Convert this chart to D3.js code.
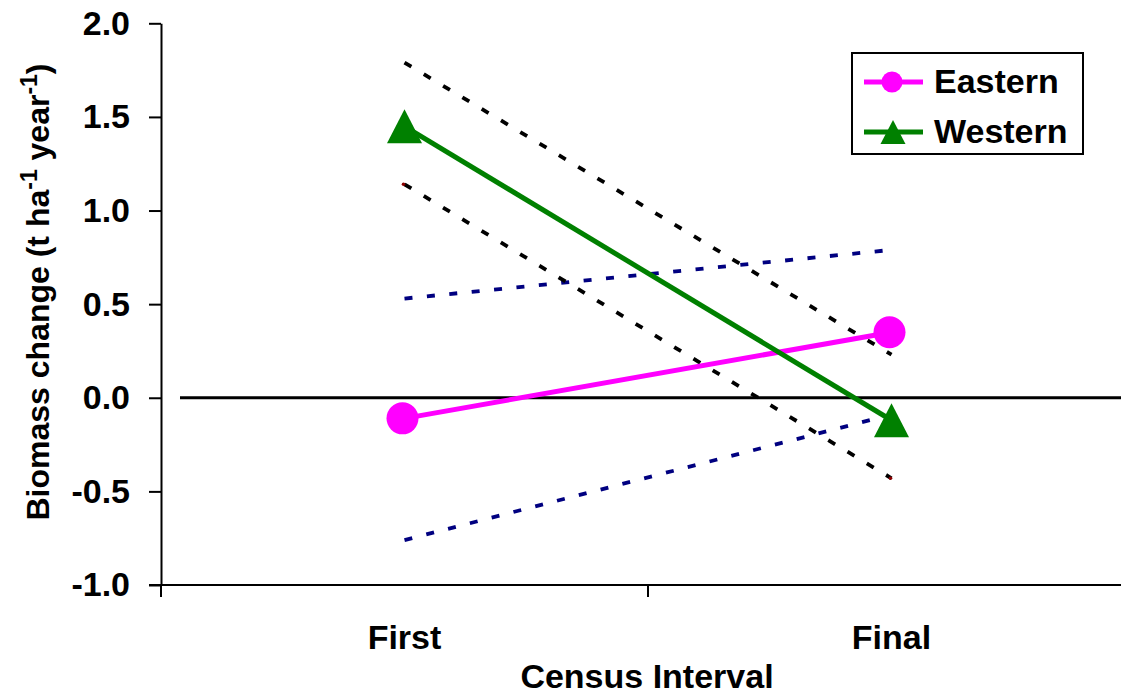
<!DOCTYPE html>
<html>
<head>
<meta charset="utf-8">
<script src="https://cdn.jsdelivr.net/npm/d3@7"></script>
<style>
  html, body { margin: 0; padding: 0; background: #fff; }
  svg { display: block; font-family: "Liberation Sans", Arial, Helvetica, sans-serif; font-weight: bold; }
</style>
</head>
<body>
<svg id="chart" width="1121" height="695"></svg>
<script>
// ---- data ----
const categories = ["First", "Final"];
const eastern = [-0.11, 0.35];
const western = [1.45, -0.12];
const easternUpper = [0.53, 0.79];
const easternLower = [-0.76, -0.09];
const westernUpper = [1.79, 0.23];
const westernLower = [1.14, -0.43];
const yTicks = [-1.0, -0.5, 0.0, 0.5, 1.0, 1.5, 2.0];
const seriesNames = ["Eastern", "Western"];

// ---- layout ----
const W = 1121, H = 695;
const svg = d3.select("#chart");
const x = d3.scaleBand().domain(categories).range([161, 1135]);
const y = d3.scaleLinear().domain([-1, 2]).range([585, 23.3]);
const cx = c => x(c) + x.bandwidth() / 2;

const colors = { Eastern: "#FF00FF", Western: "#008000" };

// y axis
const fmt = d => d3.format(".1f")(d).replace("\u2212", "-");
const yAxis = d3.axisLeft(y).tickValues(yTicks).tickSize(12).tickSizeOuter(0).tickFormat(fmt);
const gy = svg.append("g").attr("transform", `translate(${x.range()[0]},0)`).call(yAxis);
gy.select(".domain").attr("stroke", "#000").attr("stroke-width", 2);
gy.selectAll(".tick line").attr("stroke", "#000").attr("stroke-width", 2);
gy.selectAll(".tick text").attr("x", -31).attr("fill", "#000")
  .style("font-size", "34px").style("font-weight", "bold")
  .attr("font-family", "Liberation Sans, Arial, sans-serif");

// x axis (manual lines from band scale)
const gx = svg.append("g");
const xBase = y(-1);
gx.append("line").attr("x1", x.range()[0] - 12).attr("x2", W + 20)
  .attr("y1", xBase).attr("y2", xBase).attr("stroke", "#000").attr("stroke-width", 2);
const xTickPos = categories.map(c => x(c)).concat([x.range()[1]]);
gx.selectAll("line.xt").data(xTickPos).join("line").attr("class", "xt")
  .attr("x1", d => d).attr("x2", d => d).attr("y1", xBase).attr("y2", xBase + 12)
  .attr("stroke", "#000").attr("stroke-width", 2);
gx.selectAll("text.xl").data(categories).join("text").attr("class", "xl")
  .attr("x", d => cx(d)).attr("y", 649).attr("text-anchor", "middle")
  .style("font-size", "34px").text(d => d);

// axis titles
svg.append("text").attr("x", 647).attr("y", 688)
  .attr("text-anchor", "middle").style("font-size", "34px").text("Census Interval");

const yt = svg.append("text")
  .attr("transform", `translate(49,292) rotate(-90)`)
  .attr("text-anchor", "middle").style("font-size", "32px");
yt.append("tspan").text("Biomass change (t ha");
yt.append("tspan").attr("dy", -12).style("font-size", "23px").text("-1");
yt.append("tspan").attr("dy", 12).text(" year");
yt.append("tspan").attr("dy", -12).style("font-size", "23px").text("-1");
yt.append("tspan").attr("dy", 12).text(")");

// zero reference line
svg.append("line").attr("x1", 180).attr("x2", W).attr("y1", y(0)).attr("y2", y(0))
  .attr("stroke", "#000").attr("stroke-width", 3);

const line = d3.line().x((d, i) => cx(categories[i])).y(d => y(d));

// confidence lines
const ciLines = [
  { vals: easternUpper, color: "#000080" },
  { vals: easternLower, color: "#000080" },
  { vals: westernUpper, color: "#000000" },
  { vals: westernLower, color: "#000000" }
];
svg.selectAll("path.ci").data(ciLines).join("path").attr("class", "ci")
  .attr("d", d => line(d.vals)).attr("fill", "none")
  .attr("stroke", d => d.color).attr("stroke-width", 3.8)
  .attr("stroke-dasharray", "8,14.5");
// tiny dark red end markers of the lower western bound
svg.selectAll("circle.wl").data(westernLower).join("circle").attr("class", "wl")
  .attr("cx", (d, i) => cx(categories[i]) - 1).attr("cy", d => y(d)).attr("r", 1.8)
  .attr("fill", "#8B0000");

// main series
const series = [
  { name: "Eastern", vals: eastern },
  { name: "Western", vals: western }
];
svg.selectAll("path.main").data(series).join("path").attr("class", "main")
  .attr("d", d => line(d.vals)).attr("fill", "none")
  .attr("stroke", d => colors[d.name]).attr("stroke-width", 5);

const circleSym = d3.symbol().type(d3.symbolCircle).size(Math.PI * 16 * 16);
const triPath = (cxp, cyp, w, h) => `M${cxp},${cyp - h / 2}L${cxp + w / 2},${cyp + h / 2}L${cxp - w / 2},${cyp + h / 2}Z`;

svg.selectAll("path.em").data(eastern).join("path").attr("class", "em")
  .attr("transform", (d, i) => `translate(${cx(categories[i]) - 2},${y(d)})`)
  .attr("d", circleSym).attr("fill", colors.Eastern);
svg.selectAll("path.wm").data(western).join("path").attr("class", "wm")
  .attr("d", (d, i) => triPath(cx(categories[i]), y(d), 35, 34))
  .attr("fill", colors.Western);

// legend
const lg = svg.append("g");
lg.append("rect").attr("x", 852).attr("y", 53).attr("width", 231).attr("height", 101)
  .attr("fill", "#fff").attr("stroke", "#000").attr("stroke-width", 2);
const legY = [82, 132];
seriesNames.forEach((n, i) => {
  lg.append("line").attr("x1", 864).attr("x2", 923).attr("y1", legY[i]).attr("y2", legY[i])
    .attr("stroke", colors[n]).attr("stroke-width", 5);
  if (n === "Eastern") {
    lg.append("circle").attr("cx", 892).attr("cy", legY[i]).attr("r", 10.5).attr("fill", colors[n]);
  } else {
    lg.append("path").attr("d", triPath(893, legY[i], 25, 24)).attr("fill", colors[n]);
  }
  lg.append("text").attr("x", 934).attr("y", legY[i] + 11).style("font-size", "34px").text(n);
});
</script>
</body>
</html>
